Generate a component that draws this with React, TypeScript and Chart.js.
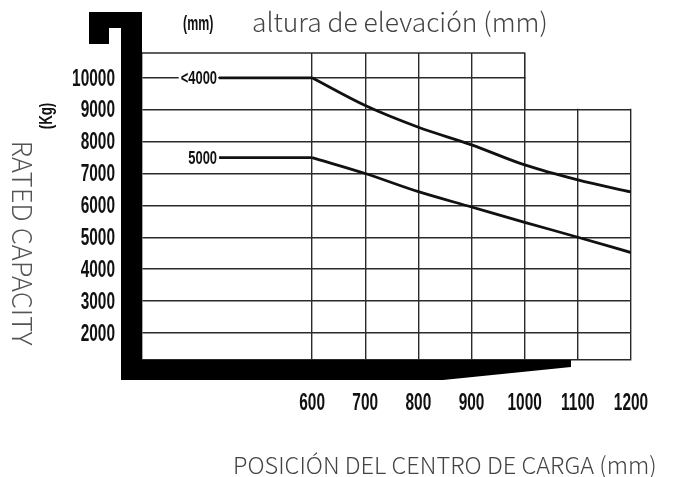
import { useEffect, useRef } from 'react';
import { Chart, registerables } from 'chart.js';

Chart.register(...registerables);

// ---- data ----
const xTickValues = [600, 700, 800, 900, 1000, 1100, 1200];
const yTickValues = [2000, 3000, 4000, 5000, 6000, 7000, 8000, 9000, 10000];
const seriesNames = ['<4000', '5000'];
const flatStartX = [425, 600];
const flat4000 = [10000, 10000];
const flat5000 = [7500, 7500];
const loadCenters = [600, 700, 800, 900, 1000, 1100, 1200];
const cap4000 = [10000, 9130, 8450, 7900, 7270, 6800, 6420];
const cap5000 = [7500, 7000, 6430, 5950, 5470, 5000, 4520];

const topTitle = 'altura de elevación (mm)';
const topUnit = '(mm)';
const yTitle = 'RATED CAPACITY';
const yUnit = '(Kg)';
const xTitle = 'POSICIÓN DEL CENTRO DE CARGA (mm)';

const NARROW = "'Liberation Sans', Arial, sans-serif";
const LIGHT = "'Noto Sans CJK SC', 'Lato', 'Open Sans', sans-serif";
const GRID = '#2a2a2a';
const LINE = '#111';

const toPts = (xs: number[], ys: number[]) => xs.map((x, i) => ({ x, y: ys[i] }));

function fitText(ctx: CanvasRenderingContext2D, text: string, target: number, weight: string | number, family: string) {
  const base = 24;
  ctx.font = `${weight} ${base}px ${family}`;
  const w = ctx.measureText(text).width;
  const size = (base * target) / w;
  ctx.font = `${weight} ${size}px ${family}`;
}

// condensed bold text: drawn with a horizontal squeeze
function narrowText(
  ctx: CanvasRenderingContext2D,
  text: string,
  x: number,
  y: number,
  size: number,
  sx: number,
  align: CanvasTextAlign,
  rot = 0,
) {
  ctx.save();
  ctx.translate(x, y);
  if (rot) ctx.rotate(rot);
  ctx.scale(sx, 1);
  ctx.font = `bold ${size}px ${NARROW}`;
  ctx.textAlign = align;
  ctx.textBaseline = 'middle';
  ctx.fillStyle = '#111';
  ctx.fillText(text, 0, 0);
  ctx.restore();
}

const decorPlugin = {
  id: 'decor',
  beforeDatasetsDraw(chart: any) {
    const { ctx, chartArea } = chart;
    const x = chart.scales.x;
    const y = chart.scales.y;
    const x1000 = x.getPixelForValue(1000);
    const y9000 = y.getPixelForValue(9000);
    ctx.save();
    // blank out the stepped top-right corner
    ctx.fillStyle = '#fff';
    ctx.fillRect(x1000 + 1, chartArea.top - 2, chartArea.right - x1000 + 4, y9000 - chartArea.top + 1);
    ctx.strokeStyle = GRID;
    ctx.lineWidth = 1.4;
    ctx.beginPath();
    ctx.moveTo(chartArea.left, chartArea.top);
    ctx.lineTo(x1000, chartArea.top);
    ctx.lineTo(x1000, y9000);
    ctx.stroke();
    ctx.restore();
  },
  afterDatasetsDraw(chart: any) {
    const { ctx } = chart;
    chart.data.datasets.forEach((ds: any, i: number) => {
      if (!ds.seriesName) return;
      const pt = chart.getDatasetMeta(i).data[0];
      ctx.save();
      ctx.font = `bold 18px ${NARROW}`;
      const w = ctx.measureText(ds.seriesName).width * 0.72;
      ctx.fillStyle = '#fff';
      ctx.fillRect(pt.x - w - 4, pt.y - 8, w + 3, 16);
      ctx.restore();
      narrowText(ctx, ds.seriesName, pt.x - 2, pt.y + 1, 18, 0.72, 'right');
    });
  },
  afterDraw(chart: any) {
    const { ctx, chartArea } = chart;
    const L = chartArea.left;
    const B = chartArea.bottom;
    const xs = chart.scales.x;
    const ys = chart.scales.y;

    // tick labels from the scales
    ys.ticks.forEach((t: any) => {
      narrowText(ctx, String(t.label), L - 27, ys.getPixelForValue(t.value) + 1, 24.5, 0.63, 'right');
    });
    xs.ticks.forEach((t: any) => {
      narrowText(ctx, String(t.label), xs.getPixelForValue(t.value), B + 43, 24.5, 0.63, 'center');
    });

    ctx.save();
    ctx.fillStyle = '#000';
    // mast
    ctx.fillRect(L - 21, 12, 21, B + 20 - 12);
    // hook at the top
    ctx.fillRect(L - 53, 12, 53, 16);
    ctx.fillRect(L - 53, 12, 20, 32);
    // fork
    ctx.beginPath();
    ctx.moveTo(L - 21, B);
    ctx.lineTo(L + 429, B);
    ctx.lineTo(L + 429, B + 7);
    ctx.lineTo(L + 301, B + 20);
    ctx.lineTo(L - 21, B + 20);
    ctx.closePath();
    ctx.fill();

    // titles
    ctx.textBaseline = 'middle';
    ctx.textAlign = 'left';
    ctx.fillStyle = '#444';
    fitText(ctx, topTitle, 296, 300, LIGHT);
    ctx.fillText(topTitle, 252, 22);

    fitText(ctx, xTitle, 424, 300, LIGHT);
    ctx.fillText(xTitle, 233, 465);

    ctx.save();
    ctx.translate(22, 243);
    ctx.rotate(Math.PI / 2);
    ctx.textAlign = 'center';
    ctx.fillStyle = '#555';
    fitText(ctx, yTitle, 205, 300, LIGHT);
    ctx.fillText(yTitle, 0, 0);
    ctx.restore();
    ctx.restore();

    narrowText(ctx, topUnit, 183, 24, 20, 0.62, 'left');
    narrowText(ctx, yUnit, 47, 116, 19, 0.7, 'center', -Math.PI / 2);
  },
};

export default function App() {
  const ref = useRef<HTMLCanvasElement>(null);
  useEffect(() => {
    const lineStyle = { borderColor: LINE, borderWidth: 2.8, pointRadius: 0, fill: false };
    const chart = new Chart(ref.current as HTMLCanvasElement, {
      type: 'line',
      data: {
        datasets: [
          { ...lineStyle, data: toPts(flatStartX, flat4000), seriesName: seriesNames[0] } as any,
          { ...lineStyle, data: toPts(loadCenters, cap4000), cubicInterpolationMode: 'monotone' } as any,
          { ...lineStyle, data: toPts(flatStartX, flat5000), seriesName: seriesNames[1] } as any,
          { ...lineStyle, data: toPts(loadCenters, cap5000), cubicInterpolationMode: 'monotone' } as any,
        ],
      },
      options: {
        responsive: false,
        animation: false,
        devicePixelRatio: 1,
        layout: { padding: { top: 53, right: 42, left: 0, bottom: 0 } },
        plugins: { legend: { display: false }, tooltip: { enabled: false } },
        scales: {
          x: {
            type: 'linear',
            min: 280,
            max: 1200,
            afterBuildTicks: (s: any) => {
              s.ticks = xTickValues.map((v) => ({ value: v }));
            },
            afterFit: (s: any) => {
              s.height = 117;
              s.paddingLeft = 0;
              s.paddingRight = 0;
            },
            grid: { color: GRID, lineWidth: 1.4, drawTicks: false },
            border: { color: GRID, width: 1.4 },
            ticks: {
              display: false,
              autoSkip: false,
              maxRotation: 0,
              callback: (v: any) => String(v),
            },
          },
          y: {
            type: 'linear',
            min: 1150,
            max: 10780,
            afterBuildTicks: (s: any) => {
              s.ticks = yTickValues.map((v) => ({ value: v }));
            },
            afterFit: (s: any) => {
              s.width = 142;
              s.paddingTop = 0;
              s.paddingBottom = 0;
            },
            grid: { color: GRID, lineWidth: 1.4, drawTicks: false },
            border: { color: GRID, width: 1.4 },
            ticks: {
              display: false,
              autoSkip: false,
              callback: (v: any) => String(v),
            },
          },
        },
      } as any,
      plugins: [decorPlugin],
    });
    return () => chart.destroy();
  }, []);
  return (
    <div style={{ position: 'absolute', left: 0, top: 0, width: 673, height: 477, background: '#fff' }}>
      <canvas ref={ref} width={673} height={477} style={{ display: 'block', width: 673, height: 477 }} />
    </div>
  );
}
